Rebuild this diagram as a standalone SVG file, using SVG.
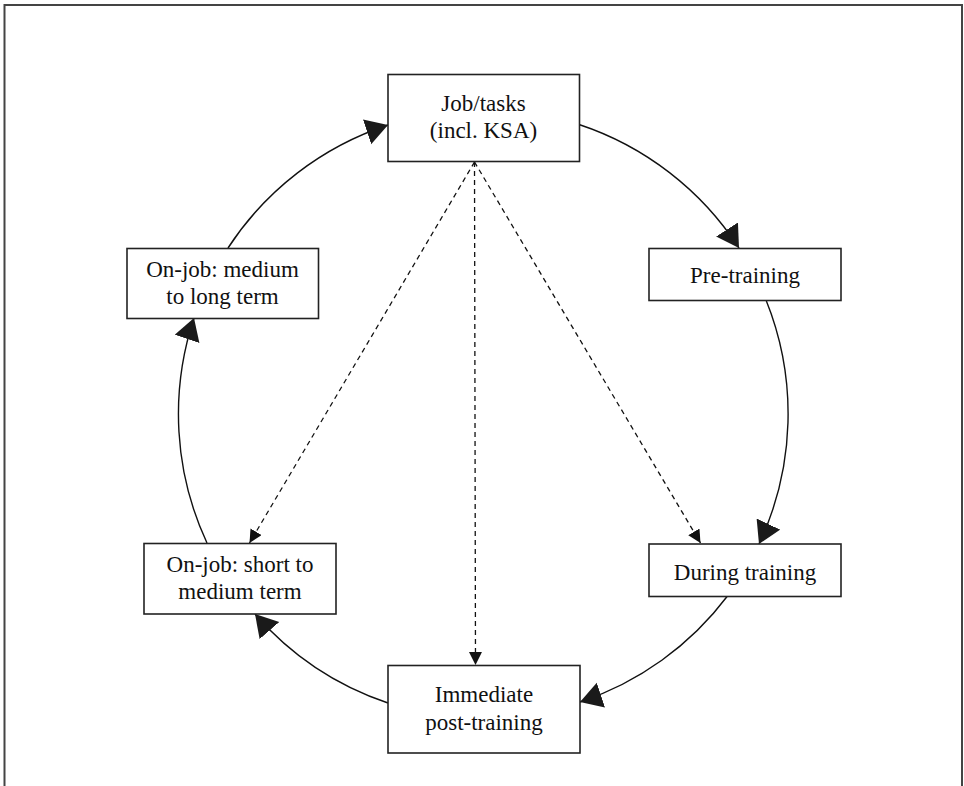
<svg xmlns="http://www.w3.org/2000/svg" width="964" height="786" viewBox="0 0 964 786">
  <style>
    .box { fill: #ffffff; stroke: #222222; stroke-width: 1.6; }
    .lbl { font-family: "Liberation Serif", "Times New Roman", serif; font-size: 23px; fill: #111111; text-anchor: middle; }
    .arc { fill: none; stroke: #111111; stroke-width: 1.4; marker-end: url(#bigHead); }
    .dash { fill: none; stroke: #111111; stroke-width: 1.3; stroke-dasharray: 5 4; marker-end: url(#smallHead); }
  </style>
  <defs>
    <marker id="bigHead" markerUnits="userSpaceOnUse" markerWidth="24" markerHeight="28" refX="22" refY="13" orient="auto">
      <path d="M0,0 L22,13 L0,26 Z" fill="#1a1a1a"/>
    </marker>
    <marker id="smallHead" markerUnits="userSpaceOnUse" markerWidth="14" markerHeight="14" refX="13" refY="6.5" orient="auto">
      <path d="M0,0 L13,6.5 L0,13 Z" fill="#111111"/>
    </marker>
  </defs>

  <rect width="964" height="786" fill="#ffffff"/>
  <!-- outer frame, open at the bottom -->
  <path d="M4.5,786 L4.5,5 L962,5 L962,786" fill="none" stroke="#444444" stroke-width="2"/>

  <!-- connectors -->
  <g id="connectors">
    <path class="arc" d="M579,124.5 A305,305 0 0 1 739,248"/>
    <path class="arc" d="M766,300 A305,305 0 0 1 759,544"/>
    <path class="arc" d="M727.5,596 A305,305 0 0 1 580,702"/>
    <path class="arc" d="M388,703 A305,305 0 0 1 255,614"/>
    <path class="arc" d="M207,543 A305,305 0 0 1 194,318"/>
    <path class="arc" d="M228,248 A305,305 0 0 1 388,125"/>
    <path class="dash" d="M474.5,162 L249.5,543"/>
    <path class="dash" d="M474.5,162 L475.5,665"/>
    <path class="dash" d="M474.5,162 L700.5,543"/>
  </g>

  <g id="job-tasks">
    <rect class="box" x="388" y="74.5" width="191.5" height="87"/>
    <text class="lbl" x="483.5" y="111">Job/tasks</text>
    <text class="lbl" x="483.5" y="137.5">(incl. KSA)</text>
  </g>

  <g id="pre-training">
    <rect class="box" x="649" y="248.5" width="192" height="52"/>
    <text class="lbl" x="745" y="282.5">Pre-training</text>
  </g>

  <g id="during-training">
    <rect class="box" x="649" y="544" width="192" height="52.5"/>
    <text class="lbl" x="745" y="579.5">During training</text>
  </g>

  <g id="immediate-post-training">
    <rect class="box" x="388" y="665.5" width="192" height="87.5"/>
    <text class="lbl" x="484" y="702">Immediate</text>
    <text class="lbl" x="484" y="729.5">post-training</text>
  </g>

  <g id="on-job-short">
    <rect class="box" x="144" y="543.5" width="192" height="70.5"/>
    <text class="lbl" x="240" y="572">On-job: short to</text>
    <text class="lbl" x="240" y="599">medium term</text>
  </g>

  <g id="on-job-medium">
    <rect class="box" x="127" y="248.5" width="191.5" height="70"/>
    <text class="lbl" x="222.5" y="277">On-job: medium</text>
    <text class="lbl" x="222.5" y="303.5">to long term</text>
  </g>
</svg>
